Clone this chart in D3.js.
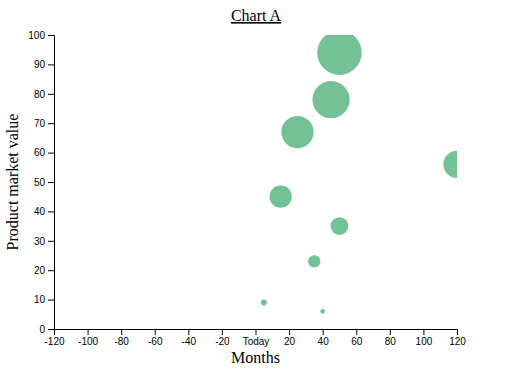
<!DOCTYPE html>
<html>
<head>
<meta charset="utf-8">
<script src="https://cdn.jsdelivr.net/npm/d3@7"></script>
<style>
  body { margin: 0; background: #fff; }
  svg { display: block; }
</style>
</head>
<body>
<svg id="chart" width="510" height="370"></svg>
<script>
const months = [50, 45, 25, 120, 15, 50, 35, 5, 40];
const values = [94, 78, 67, 56, 45, 35, 23, 9, 6];
const xTicks = [-120, -100, -80, -60, -40, -20, 0, 20, 40, 60, 80, 100, 120];
const yTicks = [0, 10, 20, 30, 40, 50, 60, 70, 80, 90, 100];
const title = "Chart A";
const xTitle = "Months";
const yTitle = "Product market value";

const svg = d3.select("#chart");
const margin = { left: 54, right: 53, top: 35, bottom: 41 };
const W = 510, H = 370;
const x = d3.scaleLinear().domain([-120, 120]).range([margin.left, W - margin.right]);
const y = d3.scaleLinear().domain([0, 100]).range([H - margin.bottom, margin.top]);
const r = d3.scaleLinear().domain([0, 100]).range([0.93, 23.6]);

svg.append("defs").append("clipPath").attr("id", "clip")
  .append("rect")
  .attr("x", margin.left).attr("y", margin.top)
  .attr("width", W - margin.left - margin.right)
  .attr("height", H - margin.top - margin.bottom);

const data = months.map((m, i) => ({ m, v: values[i] }));

svg.append("g").attr("clip-path", "url(#clip)")
  .selectAll("circle").data(data).join("circle")
  .attr("cx", d => x(d.m))
  .attr("cy", d => y(d.v))
  .attr("r", d => r(d.v))
  .attr("fill", "#74c196");

const xAxis = svg.append("g")
  .attr("transform", `translate(0,${H - margin.bottom})`)
  .call(d3.axisBottom(x).tickValues(xTicks).tickFormat(d => d === 0 ? "Today" : d));
const yAxis = svg.append("g")
  .attr("transform", `translate(${margin.left},0)`)
  .call(d3.axisLeft(y).tickValues(yTicks));
[xAxis, yAxis].forEach(a => a.selectAll("text").attr("font-family", "Liberation Sans, Arial, sans-serif").attr("font-size", 10).attr("fill", "#000"));

svg.append("text")
  .attr("x", 256).attr("y", 21)
  .attr("text-anchor", "middle")
  .attr("font-family", "Liberation Serif, Times New Roman, serif")
  .attr("font-size", 16)
  .attr("text-decoration", "underline")
  .text(title);

svg.append("text")
  .attr("x", 255.5).attr("y", 363)
  .attr("text-anchor", "middle")
  .attr("font-family", "Liberation Serif, Times New Roman, serif")
  .attr("font-size", 16)
  .text(xTitle);

svg.append("text")
  .attr("transform", `translate(18,${(margin.top + H - margin.bottom) / 2}) rotate(-90)`)
  .attr("text-anchor", "middle")
  .attr("font-family", "Liberation Serif, Times New Roman, serif")
  .attr("font-size", 16)
  .text(yTitle);
</script>
</body>
</html>
